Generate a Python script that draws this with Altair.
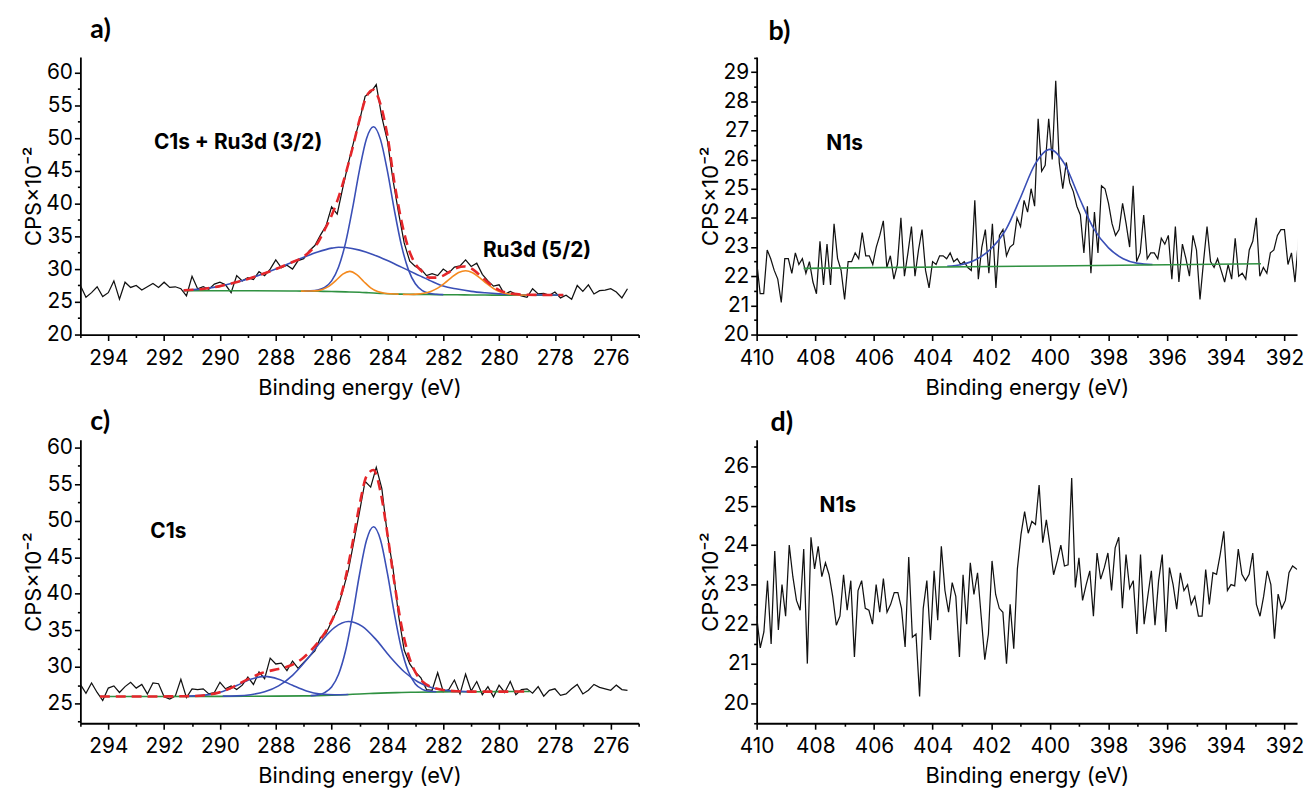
import altair as alt
import pandas as pd

# ====================== DATA ======================
# ---- panel a : C1s + Ru3d (raw spectrum, 0.2 eV grid starting at 295 eV) ----
a_x_start, a_x_step = 295.0, 0.2
a_raw = [27.5, 25.7, 26.4, 27.3, 25.8, 26.4, 28.2, 25.4, 28.0, 27.2,
         27.5, 26.8, 27.3, 27.8, 27.2, 28.0, 27.2, 27.3, 27.0, 25.9,
         28.9, 27.0, 27.3, 26.9, 27.7, 28.0, 27.6, 26.4, 29.0, 28.2,
         28.7, 28.4, 29.6, 29.0, 30.0, 31.4, 30.2, 30.6, 30.0, 31.3,
         31.6, 32.8, 33.6, 35.2, 36.6, 39.5, 38.4, 42.4, 46.2, 49.6,
         52.6, 56.4, 57.0, 58.2, 53.2, 49.6, 43.6, 38.6, 34.0, 31.2,
         30.4, 30.0, 29.0, 29.3, 29.0, 30.0, 29.4, 30.3, 30.5, 31.4,
         30.4, 30.9, 29.2, 28.2, 27.4, 27.6, 26.1, 26.6, 26.2, 25.9,
         25.7, 27.0, 26.2, 26.3, 26.0, 26.5, 25.6, 26.0, 25.4, 27.5,
         26.6, 27.6, 26.2, 26.7, 26.8, 27.0, 26.5, 25.6, 27.0]
a_bg_x = [291.3, 289.0, 287.5, 287.0, 286.5, 286.0, 285.5, 285.0, 284.75, 284.5, 284.25, 284.0,
          283.75, 283.5, 283.25, 283.0, 282.5, 282.0, 281.5, 281.0, 280.5, 280.0, 279.0, 277.7]
a_bg_y = [26.70, 26.69, 26.66, 26.64, 26.61, 26.57, 26.52, 26.45, 26.40, 26.35, 26.29, 26.24,
          26.20, 26.17, 26.15, 26.13, 26.11, 26.09, 26.07, 26.05, 26.03, 26.02, 26.01, 26.00]
a_main_x = [287.0, 286.75, 286.5, 286.25, 286.0, 285.75, 285.5, 285.25, 285.0, 284.75, 284.5,
            284.25, 284.0, 283.75, 283.5, 283.25, 283.0, 282.75, 282.5, 282.25, 282.0]
a_main_y = [26.65, 26.68, 26.80, 27.19, 28.20, 30.32, 34.01, 39.27, 45.17, 49.93, 51.75,
            49.82, 44.96, 38.98, 33.66, 29.92, 27.76, 26.72, 26.30, 26.15, 26.10]
a_broad_x = [291.3, 290.5, 290.0, 289.5, 289.0, 288.5, 288.0, 287.5, 287.0, 286.5, 286.0, 285.75,
             285.5, 285.0, 284.5, 284.0, 283.5, 283.0, 282.5, 282.0, 281.5, 281.0, 280.5, 280.0,
             279.5, 279.0, 278.0, 277.7]
a_broad_y = [26.74, 27.05, 27.40, 27.90, 28.50, 29.20, 30.00, 30.90, 31.80, 32.60, 33.20, 33.35,
             33.30, 32.90, 32.20, 31.30, 30.30, 29.30, 28.30, 27.40, 26.95, 26.60, 26.38, 26.22,
             26.12, 26.07, 26.03, 26.02]
a_or1_x = [287.1, 286.85, 286.6, 286.35, 286.1, 285.85, 285.6, 285.35, 285.1, 284.85, 284.6,
           284.35, 284.1, 283.85, 283.6]
a_or1_y = [26.64, 26.65, 26.67, 26.86, 27.35, 28.23, 29.22, 29.65, 29.16, 28.11, 27.14,
           26.57, 26.32, 26.23, 26.18]
a_or2_x = [283.45, 283.2, 282.95, 282.7, 282.45, 282.2, 281.95, 281.7, 281.45, 281.2, 280.95,
           280.7, 280.45, 280.2, 279.95, 279.7, 279.45, 279.2, 278.7]
a_or2_y = [26.14, 26.13, 26.17, 26.30, 26.58, 27.09, 27.86, 28.74, 29.47, 29.75, 29.45,
           28.71, 27.81, 27.04, 26.51, 26.22, 26.09, 26.03, 26.01]
a_env_x = [291.3, 290.5, 290.0, 289.5, 289.0, 288.5, 288.0, 287.5, 287.0, 286.75,
           286.5, 286.25, 286.0, 285.75, 285.5, 285.25, 285.0, 284.75, 284.5, 284.25,
           284.0, 283.75, 283.5, 283.25, 283.0, 282.75, 282.5, 282.25, 282.0, 281.75,
           281.5, 281.25, 281.0, 280.75, 280.5, 280.25, 280.0, 279.5, 279.0, 278.5,
           278.0, 277.7]
a_env_y = [26.75, 27.05, 27.40, 27.90, 28.50, 29.20, 30.00, 30.90, 31.90, 32.80,
           34.00, 36.00, 38.20, 41.00, 44.50, 48.50, 52.80, 56.40, 57.40, 55.20,
           50.40, 43.20, 37.40, 33.20, 30.80, 29.60, 28.70, 28.70, 29.00, 29.65,
           30.20, 30.40, 30.10, 29.30, 28.35, 27.45, 26.80, 26.22, 26.09, 26.06,
           26.04, 26.03]

# ---- panel b : N1s with fit (raw spectrum, 0.12 eV grid starting at 410 eV) ----
b_x_start, b_x_step = 410.0, 0.12
b_raw = [22.5, 21.4, 21.4, 22.9, 22.6, 22.2, 21.9, 21.1, 22.6, 22.6,
         22.1, 22.8, 22.4, 22.6, 22.1, 22.5, 21.8, 21.4, 23.2, 21.7,
         23.1, 21.7, 23.8, 22.6, 22.2, 21.2, 22.5, 22.5, 22.8, 22.6,
         23.5, 22.7, 22.7, 22.4, 23.0, 23.4, 23.9, 22.3, 22.7, 21.9,
         22.4, 24.0, 22.0, 22.8, 23.7, 22.0, 22.9, 23.6, 22.2, 21.6,
         22.5, 22.4, 22.7, 22.7, 22.6, 22.8, 22.5, 22.6, 22.4, 22.5,
         22.3, 22.2, 24.6, 21.9, 23.0, 23.6, 22.1, 23.8, 21.6, 23.4,
         23.6, 22.7, 23.0, 23.1, 24.0, 23.7, 24.6, 24.2, 25.0, 24.4,
         27.4, 25.6, 25.8, 27.4, 26.0, 28.7, 25.9, 25.0, 25.9, 25.2,
         24.9, 24.4, 24.1, 22.8, 24.4, 22.1, 24.2, 22.8, 25.1, 25.0,
         24.5, 23.8, 23.4, 23.6, 24.5, 23.8, 23.0, 25.1, 22.5, 22.8,
         24.1, 22.6, 22.8, 22.8, 22.6, 23.3, 23.1, 23.4, 21.9, 23.7,
         21.8, 23.1, 22.6, 22.0, 23.4, 22.9, 21.2, 22.5, 23.7, 22.5,
         22.3, 22.6, 22.2, 21.8, 22.4, 21.9, 23.3, 22.0, 22.1, 21.9,
         22.9, 23.2, 24.0, 22.0, 22.3, 22.1, 22.8, 22.9, 23.4, 23.6,
         23.6, 22.4, 22.8, 21.8, 23.3, 22.6, 24.6, 22.4]
b_bg_x = [408.4, 400.0, 392.8]
b_bg_y = [22.27, 22.35, 22.43]
b_fit_x = [403.5, 403.0, 402.5, 402.0, 401.5, 401.0, 400.5, 400.0, 399.5, 399.0,
           398.5, 398.0, 397.5, 397.0, 396.5]
b_fit_y = [22.34, 22.40, 22.58, 22.95, 23.60, 24.70, 25.85, 26.35, 25.85, 24.70,
           23.62, 22.97, 22.60, 22.44, 22.40]

# ---- panel c : C1s (raw spectrum, 0.2 eV grid starting at 295 eV) ----
c_x_start, c_x_step = 295.0, 0.2
c_raw = [27.6, 26.4, 27.8, 26.5, 25.4, 27.1, 27.4, 26.5, 27.3, 27.9,
         27.1, 27.6, 26.3, 27.8, 27.7, 25.9, 25.6, 26.0, 28.3, 25.8,
         27.0, 26.9, 27.0, 26.3, 26.5, 27.9, 27.0, 27.4, 26.9, 27.5,
         28.6, 27.6, 29.3, 28.4, 31.2, 30.4, 30.5, 29.5, 30.8, 29.8,
         30.6, 31.4, 32.2, 34.0, 34.6, 36.2, 37.8, 40.4, 43.2, 47.2,
         51.2, 55.4, 54.6, 57.3, 54.4, 48.0, 43.5, 37.0, 32.3, 30.4,
         29.3, 28.5, 26.9, 26.8, 29.2, 26.6, 26.9, 28.2, 26.3, 29.0,
         26.7, 28.0, 26.2, 27.3, 25.9, 27.5, 26.5, 28.0, 26.2, 26.9,
         27.0, 26.4, 27.3, 26.0, 26.8, 27.0, 26.1, 26.3, 27.0, 27.6,
         26.3, 26.8, 27.6, 27.2, 27.0, 26.8, 27.5, 26.9, 26.8]
c_bg_x = [294.3, 292.0, 290.0, 288.0, 287.0, 286.5, 286.0, 285.5, 285.0, 284.5, 284.0,
          283.5, 283.0, 282.0, 281.0, 280.0, 278.9]
c_bg_y = [25.95, 25.96, 25.97, 26.00, 26.03, 26.06, 26.12, 26.20, 26.30, 26.38, 26.45,
          26.50, 26.54, 26.58, 26.60, 26.62, 26.63]
c_main_x = [286.75, 286.5, 286.25, 286.0, 285.75, 285.5, 285.25, 285.0, 284.75, 284.5,
            284.25, 284.0, 283.75, 283.5, 283.25, 283.0, 282.75, 282.5, 282.25]
c_main_y = [26.07, 26.17, 26.48, 27.25, 29.00, 32.21, 37.02, 42.64, 47.32, 49.18,
            47.40, 42.79, 37.25, 32.51, 29.36, 27.67, 26.93, 26.67, 26.60]
c_mid_x = [289.9, 289.4, 288.9, 288.4, 287.9, 287.4, 286.9, 286.4, 285.9, 285.4,
           284.9, 284.4, 283.9, 283.4, 282.9, 282.4, 281.9, 281.4, 280.9]
c_mid_y = [26.00, 26.04, 26.20, 26.59, 27.40, 28.85, 30.94, 33.37, 35.38, 36.22,
           35.55, 33.70, 31.36, 29.34, 27.94, 27.16, 26.79, 26.65, 26.62]
c_high_x = [291.4, 290.9, 290.4, 289.9, 289.4, 288.9, 288.4, 287.9, 287.4, 286.9,
            286.4, 285.9, 285.4]
c_high_y = [25.98, 26.03, 26.21, 26.65, 27.45, 28.30, 28.70, 28.32, 27.48, 26.71,
            26.30, 26.20, 26.23]
c_env_x = [294.3, 293.0, 292.0, 291.5, 291.0, 290.5, 290.0, 289.5, 289.0, 288.5,
           288.0, 287.75, 287.5, 287.25, 287.0, 286.75, 286.5, 286.25, 286.0, 285.75,
           285.5, 285.25, 285.0, 284.75, 284.5, 284.25, 284.0, 283.75, 283.5, 283.25,
           283.0, 282.75, 282.5, 282.25, 282.0, 281.5, 281.0, 280.0, 278.9]
c_env_y = [25.95, 25.96, 25.96, 25.98, 26.01, 26.15, 26.54, 27.31, 28.32, 29.16,
           29.64, 29.84, 30.15, 30.61, 31.29, 32.20, 33.29, 34.60, 36.26, 38.66,
           42.20, 46.95, 52.15, 56.07, 56.93, 53.99, 48.18, 41.49, 35.71, 31.69,
           29.29, 28.02, 27.37, 27.04, 26.84, 26.67, 26.62, 26.62, 26.63]

# ---- panel d : N1s (raw spectrum, 0.1235 eV grid starting at 410 eV) ----
d_x_start, d_x_step = 410.0, 0.1235
d_raw = [22.2, 21.4, 21.8, 23.1, 21.5, 23.85, 21.85, 23.0, 22.2, 24.0,
         23.2, 22.6, 22.35, 23.9, 21.0, 24.2, 23.4, 23.97, 23.2, 23.55,
         23.25, 22.7, 21.97, 22.2, 23.25, 22.35, 23.1, 21.17, 22.85, 23.1,
         22.4, 22.35, 22.0, 23.0, 22.3, 23.15, 22.3, 22.5, 22.8, 22.8,
         22.4, 21.42, 23.7, 21.67, 21.75, 20.17, 22.4, 23.1, 21.6, 23.35,
         22.1, 23.97, 22.85, 22.3, 23.05, 22.7, 21.17, 23.25, 22.0, 23.55,
         22.75, 23.3, 22.2, 21.1, 21.75, 23.6, 22.75, 22.4, 22.3, 21.0,
         22.5, 21.38, 23.4, 24.27, 24.85, 24.3, 24.6, 24.52, 25.52, 24.06,
         24.64, 24.0, 23.25, 23.6, 24.0, 23.47, 23.5, 25.7, 22.93, 23.68,
         22.6, 23.0, 23.35, 22.2, 23.8, 23.14, 23.43, 23.8, 22.85, 23.93,
         24.2, 22.4, 23.76, 22.9, 23.1, 21.75, 23.76, 22.0, 22.7, 23.35,
         21.97, 23.1, 23.76, 21.8, 23.43, 23.0, 22.38, 23.3, 22.85, 23.0,
         22.5, 22.7, 22.2, 22.2, 23.38, 22.5, 23.3, 23.26, 23.76, 24.35,
         22.85, 23.0, 22.97, 23.9, 23.26, 23.1, 23.26, 23.8, 22.5, 22.2,
         22.7, 23.35, 23.0, 21.63, 22.76, 22.4, 22.6, 23.3, 23.47, 23.4,
         23.35]

# ---- axes / labels ----
c1s_x_ticks = list(range(275, 296))
n1s_x_ticks = list(range(392, 411))
a_y_ticks = [20, 22.5, 25, 27.5, 30, 32.5, 35, 37.5, 40, 42.5, 45, 47.5, 50, 52.5, 55, 57.5, 60]
c_y_ticks = [22.5, 25, 27.5, 30, 32.5, 35, 37.5, 40, 42.5, 45, 47.5, 50, 52.5, 55, 57.5, 60]
b_y_ticks = [20, 20.5, 21, 21.5, 22, 22.5, 23, 23.5, 24, 24.5, 25, 25.5, 26, 26.5, 27, 27.5,
             28, 28.5, 29, 29.5]
d_y_ticks = [19.5, 20, 20.5, 21, 21.5, 22, 22.5, 23, 23.5, 24, 24.5, 25, 25.5, 26, 26.5]

x_title = "Binding energy (eV)"
y_title = "CPS\u00d710\u207b\u00b2"

annotations = {
    "a": (["C1s + Ru3d (3/2)", "Ru3d (5/2)"], [289.35, 278.64], [49.2, 32.8]),
    "b": (["N1s"], [407.0], [26.53]),
    "c": (["C1s"], [291.85], [48.4]),
    "d": (["N1s"], [407.23], [25.0]),
}

# ====================== STYLE ======================
FONT = "Inter"
BLACK = "#111111"
BLUE = "#3a4fb6"
ORANGE = "#f48a1f"
GREEN = "#2f9141"
RED = "#e5262a"


def grid_x(start, step, n):
    return [round(start - step * i, 4) for i in range(n)]


def x_axis(values, major_mod):
    return alt.Axis(
        values=values,
        labelExpr=f"datum.value % {major_mod} === 0 ? format(datum.value, 'd') : ''",
        tickSize={"condition": {"test": f"datum.value % {major_mod} === 0", "value": 6}, "value": 3},
        title=x_title, labelOverlap=False, labelFlush=False, labelPadding=7, titlePadding=9,
    )


def y_axis(values, major_mod):
    return alt.Axis(
        values=values,
        labelExpr=f"datum.value % {major_mod} === 0 ? format(datum.value, 'd') : ''",
        tickSize={"condition": {"test": f"datum.value % {major_mod} === 0", "value": 6}, "value": 3},
        title=y_title, labelOverlap=False, labelFlush=False, labelPadding=2, titlePadding=0,
    )


def panel(layers_spec, xdom, ydom, xvals, xmod, yvals, ymod, ann, w, h, letter, dx, offset, dy):
    xs = alt.Scale(domain=xdom, reverse=True, nice=False, zero=False)
    ys = alt.Scale(domain=ydom, nice=False, zero=False)
    xa = x_axis(xvals, xmod)
    ya = y_axis(yvals, ymod)
    layers = []
    for xsv, ysv, color, width, dash, interp in layers_spec:
        df = pd.DataFrame({"x": xsv, "y": ysv})
        kw = dict(color=color, strokeWidth=width, interpolate=interp, clip=True)
        if dash:
            kw["strokeDash"] = dash
        layers.append(
            alt.Chart(df).mark_line(**kw).encode(
                x=alt.X("x:Q", scale=xs, axis=xa),
                y=alt.Y("y:Q", scale=ys, axis=ya),
            )
        )
    texts, tx, ty = ann
    tdf = pd.DataFrame({"x": tx, "y": ty, "t": texts})
    layers.append(
        alt.Chart(tdf).mark_text(font=FONT, fontWeight="bold", fontSize=21, color="black",
                                 align="center", baseline="middle").encode(
            x=alt.X("x:Q", scale=xs, axis=xa), y=alt.Y("y:Q", scale=ys, axis=ya), text="t:N")
    )
    return alt.layer(*layers).properties(
        width=w, height=h,
        title=alt.TitleParams(letter, anchor="start", frame="group", font="Lato", fontSize=27,
                              fontWeight="bold", color="black", dx=dx, dy=dy, offset=offset),
    )


A = panel(
    [
        (grid_x(a_x_start, a_x_step, len(a_raw)), a_raw, BLACK, 1.25, None, "linear"),
        (a_bg_x, a_bg_y, GREEN, 1.6, None, "monotone"),
        (a_broad_x, a_broad_y, BLUE, 1.6, None, "monotone"),
        (a_main_x, a_main_y, BLUE, 1.6, None, "monotone"),
        (a_or1_x, a_or1_y, ORANGE, 1.6, None, "monotone"),
        (a_or2_x, a_or2_y, ORANGE, 1.6, None, "monotone"),
        (a_env_x, a_env_y, RED, 2.6, [10, 6], "monotone"),
    ],
    [275, 295], [20, 62.42], c1s_x_ticks, 2, a_y_ticks, 5, annotations["a"], 563, 280, "a)", 10, 13, 0,
)
B = panel(
    [
        (grid_x(b_x_start, b_x_step, len(b_raw)), b_raw, BLACK, 1.25, None, "linear"),
        (b_fit_x, b_fit_y, BLUE, 1.6, None, "monotone"),
        (b_bg_x, b_bg_y, GREEN, 1.6, None, "linear"),
    ],
    [391.57, 410], [20, 29.52], n1s_x_ticks, 2, b_y_ticks, 1, annotations["b"], 545, 280, "b)", 12, 1, 0,
)
C = panel(
    [
        (grid_x(c_x_start, c_x_step, len(c_raw)), c_raw, BLACK, 1.25, None, "linear"),
        (c_bg_x, c_bg_y, GREEN, 1.6, None, "monotone"),
        (c_high_x, c_high_y, BLUE, 1.6, None, "monotone"),
        (c_mid_x, c_mid_y, BLUE, 1.6, None, "monotone"),
        (c_main_x, c_main_y, BLUE, 1.6, None, "monotone"),
        (c_env_x, c_env_y, RED, 2.6, [10, 6], "monotone"),
    ],
    [275, 295], [22.29, 61.09], c1s_x_ticks, 2, c_y_ticks, 5, annotations["c"], 563, 286, "c)", 10, 7, 6,
)
D = panel(
    [
        (grid_x(d_x_start, d_x_step, len(d_raw)), d_raw, BLACK, 1.25, None, "linear"),
    ],
    [391.57, 410], [19.49, 26.67], n1s_x_ticks, 2, d_y_ticks, 1, annotations["d"], 545, 286, "d)", 14, 7, 8,
)

chart = (
    alt.concat(A, B, C, D, columns=2, spacing={"row": 106, "column": 119}, bounds="flush")
    .properties(padding={"left": 15, "top": 5, "right": 0, "bottom": 0}, background="white")
    .configure_view(stroke=None)
    .configure_axis(
        labelFont=FONT, labelFontSize=21, labelColor="black",
        titleFont=FONT, titleFontSize=22, titleFontWeight="normal", titleColor="black",
        domainColor="black", tickColor="black", domainWidth=1.8, tickWidth=1.6, grid=False,
    )
)

chart.save("out.html", embed_options={"renderer": "svg", "actions": False})
